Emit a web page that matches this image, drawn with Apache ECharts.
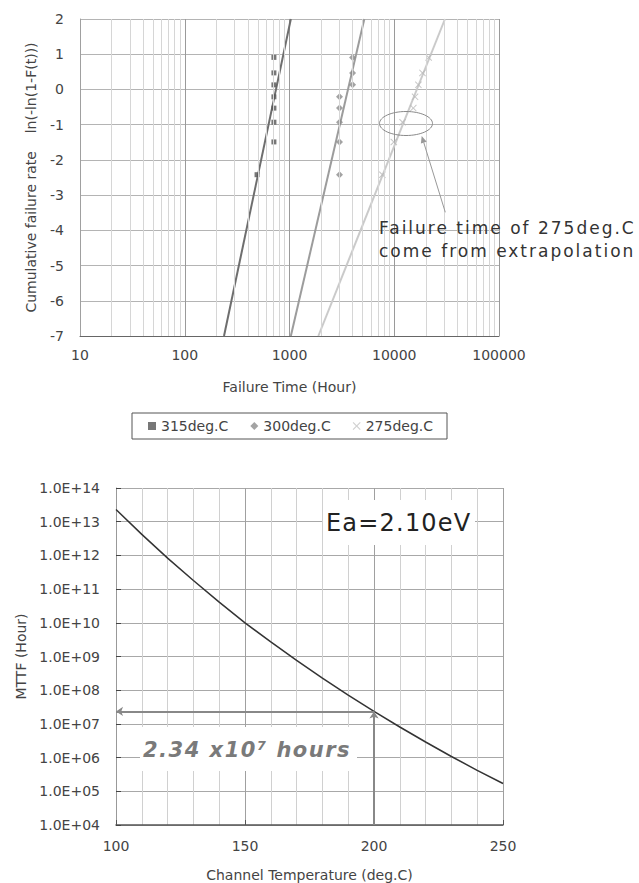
<!DOCTYPE html>
<html><head><meta charset="utf-8">
<script src="https://cdn.jsdelivr.net/npm/echarts@6/dist/echarts.min.js"></script>
<style>html,body{margin:0;padding:0;background:#fff}#c{width:639px;height:883px}</style>
</head><body><div id="c"></div>
<script>
// ---------- Top chart: Weibull plot ----------
const seriesNames = ['315deg.C', '300deg.C', '275deg.C'];
const rankY = [-2.42, -1.49, -0.93, -0.53, -0.21, 0.13, 0.47, 0.91];
const time315 = [490, 710, 710, 710, 710, 710, 710, 710];
const time300 = [3000, 3000, 3000, 3000, 3000, 4000, 4000, 4000];
const time275 = [7700, 9900, 12000, 15200, 15800, 17000, 18600, 21300];
const fitY = [-7, 2];
const fit315X = [237, 1030];
const fit300X = [1030, 5180];
const fit275X = [1885, 30500];
const topXTicks = [10, 100, 1000, 10000, 100000];
const topYTicks = [-7, -6, -5, -4, -3, -2, -1, 0, 1, 2];

// ---------- Bottom chart: MTTF vs channel temperature ----------
const channelTemp = [100, 110, 120, 130, 140, 150, 160, 170, 180, 190, 200, 210, 220, 230, 240, 250];
const mttfHours = [2.3e13, 4.2e12, 8.3e11, 1.8e11, 4.1e10, 1.0e10, 2.7e9, 7.7e8, 2.3e8, 7.1e7, 2.34e7, 8.1e6, 2.9e6, 1.08e6, 4.2e5, 1.7e5];
const targetTemp = 200;
const targetMttf = 2.34e7;
const bottomXTicks = [100, 150, 200, 250];
const bottomYTicks = ['1.0E+04','1.0E+05','1.0E+06','1.0E+07','1.0E+08','1.0E+09','1.0E+10','1.0E+11','1.0E+12','1.0E+13','1.0E+14'];

const FONT = 'DejaVu Sans';
const zip = (xs, ys) => xs.map((x, i) => [x, ys[i]]);

// minor gridline positions for the log axis (2..9 within each decade)
const minorX = [];
for (let d = 0; d < topXTicks.length - 1; d++) {
  for (let k = 2; k <= 9; k++) minorX.push({ xAxis: topXTicks[d] * k });
}
const crossPath = 'path://M0,1L1,0L5,4L9,0L10,1L6,5L10,9L9,10L5,6L1,10L0,9L4,5Z';

const chart = echarts.init(document.getElementById('c'), null, { renderer: 'svg' });
const option = {
  animation: false,
  textStyle: { fontFamily: FONT },
  grid: [
    { left: 80, top: 19, right: 140, bottom: 547 },
    { left: 116, top: 488, right: 136, bottom: 58 }
  ],
  legend: {
    left: 132, top: 413,
    padding: [6, 14, 6, 16],
    borderColor: '#555', borderWidth: 1,
    itemWidth: 8, itemHeight: 8, itemGap: 22,
    textStyle: { fontFamily: FONT, fontSize: 14, color: '#444' },
    data: [
      { name: seriesNames[0], icon: 'rect', itemStyle: { color: '#555' } },
      { name: seriesNames[1], icon: 'diamond', itemStyle: { color: '#8c8c8c' } },
      { name: seriesNames[2], icon: crossPath, itemStyle: { color: '#c4c4c4' } }
    ]
  },
  xAxis: [
    {
      gridIndex: 0, type: 'log', logBase: 10, min: topXTicks[0], max: topXTicks[topXTicks.length - 1],
      name: 'Failure Time (Hour)', nameLocation: 'middle', nameGap: 44,
      nameTextStyle: { fontFamily: FONT, fontSize: 14, color: '#444' },
      axisLine: { onZero: false, lineStyle: { color: '#666', width: 1 } },
      axisTick: { show: false },
      axisLabel: { fontFamily: FONT, fontSize: 14, color: '#444', margin: 12, formatter: v => String(Math.round(v)) },
      splitLine: { show: true, lineStyle: { color: '#9a9a9a', width: 1 } }
    },
    {
      gridIndex: 1, type: 'value', min: 100, max: 250, interval: 50,
      name: 'Channel Temperature (deg.C)', nameLocation: 'middle', nameGap: 43,
      nameTextStyle: { fontFamily: FONT, fontSize: 14, color: '#444' },
      axisLine: { onZero: false, lineStyle: { color: '#555', width: 1.5 } },
      axisTick: { show: true, inside: true, length: 5, lineStyle: { color: '#555' } },
      axisLabel: { fontFamily: FONT, fontSize: 14, color: '#444', margin: 14,
        formatter: v => (bottomXTicks.includes(v) ? String(v) : '') },
      splitLine: { show: true, lineStyle: { color: '#a0a0a0', width: 1 } },
      minorTick: { show: false, splitNumber: 5 },
      minorSplitLine: { show: true, lineStyle: { color: '#d0d0d0', width: 1 } }
    }
  ],
  yAxis: [
    {
      gridIndex: 0, type: 'value', min: topYTicks[0], max: topYTicks[topYTicks.length - 1], interval: 1,
      name: 'Cumulative failure rate    ln(-ln(1-F(t)))', nameLocation: 'middle', nameGap: 42, nameRotate: 90,
      nameTextStyle: { fontFamily: FONT, fontSize: 14, color: '#444' },
      axisLine: { show: true, onZero: false, lineStyle: { color: '#a0a0a0', width: 1 } },
      axisTick: { show: false },
      axisLabel: { fontFamily: FONT, fontSize: 14, color: '#444', margin: 16 },
      splitLine: { show: true, lineStyle: { color: '#b4b4b4', width: 1 } }
    },
    {
      gridIndex: 1, type: 'log', logBase: 10, min: 1e4, max: 1e14, interval: 1,
      name: 'MTTF (Hour)', nameLocation: 'middle', nameGap: 88, nameRotate: 90,
      nameTextStyle: { fontFamily: FONT, fontSize: 14, color: '#444' },
      axisLine: { show: true, onZero: false, lineStyle: { color: '#999', width: 1 } },
      axisTick: { show: true, inside: true, length: 5, lineStyle: { color: '#444' } },
      axisLabel: { fontFamily: FONT, fontSize: 14, color: '#444', margin: 16,
        formatter: v => { const e = Math.round(Math.log10(v)); return bottomYTicks[e - 4] || ''; } },
      splitLine: { show: true, lineStyle: { color: '#a8a8a8', width: 1 } }
    }
  ],
  series: [
    { name: 'minor-grid', type: 'line', xAxisIndex: 0, yAxisIndex: 0, data: [], silent: true, z: 1,
      markLine: { silent: true, symbol: ['none', 'none'], label: { show: false },
        lineStyle: { color: '#d6d6d6', type: 'solid', width: 1 }, data: minorX } },
    { name: 'fit315', type: 'line', xAxisIndex: 0, yAxisIndex: 0, data: zip(fit315X, fitY), showSymbol: false, z: 3,
      lineStyle: { color: '#6e6e6e', width: 2 }, silent: true },
    { name: 'fit300', type: 'line', xAxisIndex: 0, yAxisIndex: 0, data: zip(fit300X, fitY), showSymbol: false, z: 3,
      lineStyle: { color: '#9c9c9c', width: 2 }, silent: true },
    { name: 'fit275', type: 'line', xAxisIndex: 0, yAxisIndex: 0, data: zip(fit275X, fitY), showSymbol: false, z: 3,
      lineStyle: { color: '#cacaca', width: 2 }, silent: true },
    { name: seriesNames[0], type: 'scatter', xAxisIndex: 0, yAxisIndex: 0, data: zip(time315, rankY), z: 4,
      symbol: 'rect', symbolSize: 5, itemStyle: { color: '#555' } },
    { name: seriesNames[1], type: 'scatter', xAxisIndex: 0, yAxisIndex: 0, data: zip(time300, rankY), z: 4,
      symbol: 'diamond', symbolSize: 7, itemStyle: { color: '#8c8c8c' } },
    { name: seriesNames[2], type: 'scatter', xAxisIndex: 0, yAxisIndex: 0, data: zip(time275, rankY), z: 4,
      symbol: crossPath, symbolSize: 7, itemStyle: { color: '#b8b8b8' } },
    { name: 'MTTF', type: 'line', xAxisIndex: 1, yAxisIndex: 1, data: zip(channelTemp, mttfHours), z: 4,
      showSymbol: false, smooth: false, lineStyle: { color: '#333', width: 1.5 },
      markLine: { silent: true, symbol: ['none', 'arrow'], symbolSize: 7, label: { show: false },
        lineStyle: { color: '#888', width: 2, type: 'solid' },
        data: [
          [{ coord: [targetTemp, targetMttf] }, { coord: [channelTemp[0], targetMttf] }],
          [{ coord: [targetTemp, 1e4] }, { coord: [targetTemp, targetMttf] }]
        ] } }
  ],
  graphic: [
    { type: 'ellipse', z: 50, silent: true, shape: { cx: 406, cy: 123.5, rx: 26.5, ry: 12 },
      style: { fill: 'none', stroke: '#8a8a8a', lineWidth: 1 } },
    { type: 'line', z: 50, silent: true, shape: { x1: 445.3, y1: 212.3, x2: 423.8, y2: 142.7 },
      style: { stroke: '#999', lineWidth: 1 } },
    { type: 'polygon', z: 50, silent: true, shape: { points: [[421.7, 136], [426.7, 141.8], [420.9, 143.6]] },
      style: { fill: '#999' } },
    { type: 'text', z: 50, silent: true, x: 379, y: 228,
      style: { text: 'Failure time of 275deg.C', font: '17px "DejaVu Sans"', fill: '#333', textAlign: 'left', textVerticalAlign: 'middle', verticalAlign: 'middle' } },
    { type: 'text', z: 50, silent: true, x: 379, y: 250.5,
      style: { text: 'come from extrapolation', font: '17px "DejaVu Sans"', fill: '#333', textAlign: 'left', textVerticalAlign: 'middle', verticalAlign: 'middle' } },
    { type: 'rect', z: 50, silent: true, shape: { x: 323, y: 500, width: 152, height: 45 }, style: { fill: '#fff' } },
    { type: 'text', z: 51, silent: true, x: 326, y: 522.5,
      style: { text: 'Ea=2.10eV', font: '24px "DejaVu Sans"', fill: '#222', textAlign: 'left', textVerticalAlign: 'middle', verticalAlign: 'middle' } },
    { type: 'rect', z: 50, silent: true, shape: { x: 140, y: 727, width: 217, height: 44 }, style: { fill: '#fff' } },
    { type: 'text', z: 51, silent: true, x: 143, y: 749.5,
      style: { text: '2.34 x10\u2077 hours', font: 'italic bold 21px "DejaVu Sans"', fill: '#7a7a7a', textAlign: 'left', textVerticalAlign: 'middle', verticalAlign: 'middle' } }
  ]
};
chart.setOption(option);

function applySpacing() {
  document.querySelectorAll('#c text').forEach(t => {
    const s = t.textContent || '';
    if (s.indexOf('Failure time') === 0 || s.indexOf('come from') === 0) t.setAttribute('letter-spacing', '2');
    else if (s.indexOf('Ea=') === 0) t.setAttribute('letter-spacing', '1.2');
    else if (s.indexOf('2.34') === 0) t.setAttribute('letter-spacing', '1.5');
  });
}
applySpacing();
chart.on('finished', applySpacing);
setTimeout(applySpacing, 30);
setTimeout(applySpacing, 200);
</script>
</body></html>
